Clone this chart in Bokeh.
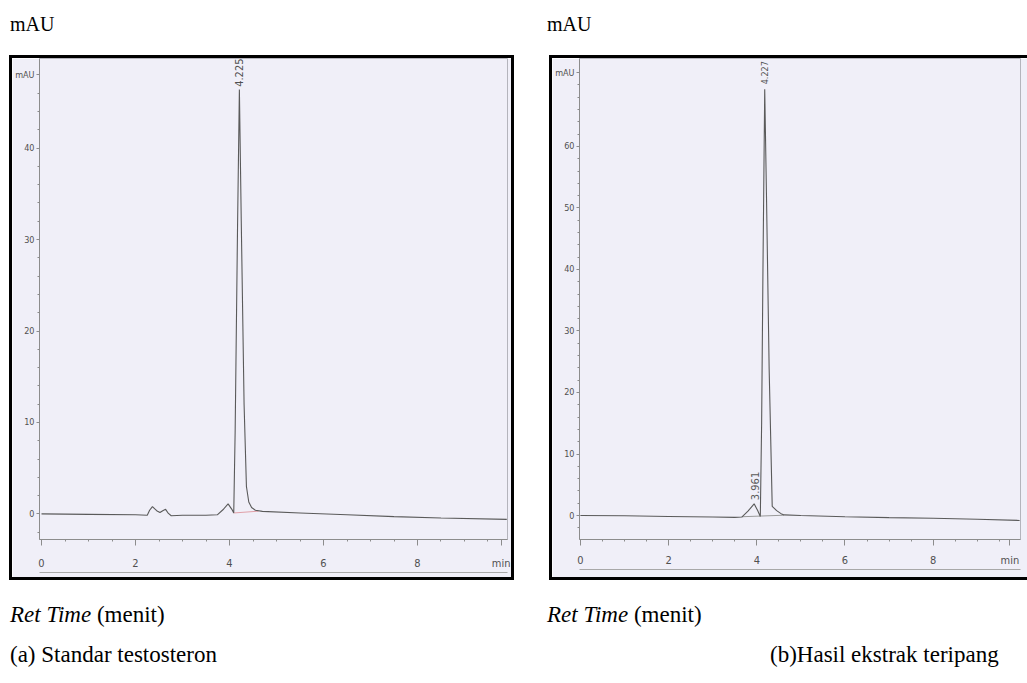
from bokeh.plotting import figure
from bokeh.models import FixedTicker, LinearAxis, Label, Div, Spacer
from bokeh.layouts import column, row
from bokeh.embed import file_html
from bokeh.resources import INLINE

# ---------------- data ----------------
# (a) Standar testosteron
std_time = [0.0, 1.0, 2.0, 2.25, 2.30, 2.36, 2.45, 2.52, 2.58, 2.64, 2.70, 2.76,
            3.0, 3.5, 3.74, 3.86, 3.97, 4.05, 4.09, 4.12, 4.17, 4.21, 4.25, 4.31,
            4.36, 4.41, 4.47, 4.55, 4.70, 5.5, 6.5, 7.5, 8.5, 9.9]
std_mau = [0.0, -0.05, -0.1, -0.15, 0.4, 0.8, 0.35, 0.15, 0.35, 0.5, 0.05, -0.2,
           -0.15, -0.15, -0.1, 0.45, 1.1, 0.5, 0.1, 9.0, 31.0, 46.4, 32.0, 12.0,
           3.0, 1.3, 0.7, 0.4, 0.28, 0.1, -0.1, -0.3, -0.45, -0.6]
std_base_time = [4.09, 4.62]
std_base_mau = [0.1, 0.3]
std_peak_labels = ["4.225"]

# (b) Hasil ekstrak teripang
ext_time = [0.0, 1.0, 2.0, 3.0, 3.5, 3.66, 3.80, 3.94, 4.02, 4.08, 4.11, 4.14,
            4.18, 4.22, 4.28, 4.35, 4.45, 4.55, 4.62, 5.0, 6.0, 7.0, 8.0, 9.0, 9.96]
ext_mau = [0.0, -0.05, -0.15, -0.25, -0.3, -0.25, 0.7, 1.9, 0.8, -0.15, 15.0, 40.0,
           69.3, 52.0, 24.0, 1.5, 0.8, 0.3, 0.1, 0.0, -0.2, -0.35, -0.45, -0.6, -0.8]
ext_base_time = [3.66, 4.62]
ext_base_mau = [-0.2, 0.05]
ext_small_peak_time = 3.961
ext_peak_labels = ["3.961", "4.227"]

std_y_major = [0, 10, 20, 30, 40]
ext_y_major = [0, 10, 20, 30, 40, 50, 60]
x_major = [0, 2, 4, 6, 8]
x_minor = [i * 0.5 for i in range(0, 21)]

BG = "#f0eff8"
TRACE = "#5a5a5a"
AXIS = "#8c8c8c"
TICKFONT = "DejaVu Sans Condensed"


def make_panel(t, m, bt, bm, bcol, xr, yr, y_major, mau_tick, y_minor, min_pos,
               w, h, ml, mr, mb, x_standoff):
    p = figure(width=w, height=h, x_range=xr, y_range=yr,
               output_backend="svg", toolbar_location=None,
               min_border_left=ml, min_border_right=mr,
               min_border_top=0, min_border_bottom=mb,
               background_fill_color=BG, border_fill_color=BG)
    p.styles = {"box-shadow": "0 0 0 3px #000"}
    p.grid.visible = False
    p.outline_line_color = "#b4b4bc"
    p.outline_line_width = 1

    ya = p.yaxis[0]
    ya.ticker = FixedTicker(ticks=y_major + [mau_tick], minor_ticks=y_minor)
    ya.major_label_overrides = {mau_tick: "mAU"}
    ya.axis_line_color = AXIS
    ya.major_tick_line_color = AXIS
    ya.minor_tick_line_color = AXIS
    ya.major_tick_out = 3
    ya.major_tick_in = 0
    ya.minor_tick_out = 2
    ya.minor_tick_in = 0
    ya.major_label_standoff = 2
    ya.major_label_text_font = TICKFONT
    ya.major_label_text_font_size = "9px"
    ya.major_label_text_color = "#505050"

    xa = p.xaxis[0]
    xa.ticker = FixedTicker(ticks=x_major + [min_pos], minor_ticks=x_minor)
    xa.major_label_overrides = {min_pos: "min"}
    xa.axis_line_color = AXIS
    xa.major_tick_line_color = AXIS
    xa.minor_tick_line_color = AXIS
    xa.major_tick_out = 6
    xa.major_tick_in = 0
    xa.minor_tick_out = 2
    xa.minor_tick_in = 0
    xa.major_label_standoff = x_standoff
    xa.major_label_text_font = TICKFONT
    xa.major_label_text_font_size = "11px"
    xa.major_label_text_color = "#505050"

    xb = LinearAxis(ticker=FixedTicker(ticks=[]), axis_line_color="#a8a8a8",
                    major_tick_line_color=None, minor_tick_line_color=None,
                    major_label_text_font_size="0px", major_label_standoff=0)
    p.add_layout(xb, "below")

    p.line(bt, bm, line_color=bcol, line_width=1)
    p.line(t, m, line_color=TRACE, line_width=1.1)
    return p


p1 = make_panel(std_time, std_mau, std_base_time, std_base_mau, "#e0a0a8",
                (-0.043, 9.915), (-2.8, 49.8), std_y_major, 48,
                list(range(-2, 50, 2)), 9.78, 499, 519, 27, 4, 31, 11)
imax = std_mau.index(max(std_mau))
p1.add_layout(Label(x=std_time[imax], y=std_mau[imax] + 0.3, text=std_peak_labels[0],
                    angle=90, angle_units="deg", text_align="left",
                    text_baseline="middle", text_font="DejaVu Sans Condensed",
                    text_font_size="11px", text_color="#505050"))

p2 = make_panel(ext_time, ext_mau, ext_base_time, ext_base_mau, "#9a9a9a",
                (-0.02, 9.98), (-3.9, 74.3), ext_y_major, 72,
                list(range(-2, 74, 2)), 9.74, 475, 519, 24, 7, 38, 8)
jmax = ext_mau.index(max(ext_mau))
p2.add_layout(Label(x=ext_time[jmax], y=ext_mau[jmax] + 0.8, text=ext_peak_labels[1],
                    angle=90, angle_units="deg", text_align="left",
                    text_baseline="middle", text_font="DejaVu Sans Condensed",
                    text_font_size="9px", text_color="#505050"))
ksmall = ext_time.index(3.94)
p2.add_layout(Label(x=ext_small_peak_time, y=ext_mau[ksmall] + 0.6, text=ext_peak_labels[0],
                    angle=90, angle_units="deg", text_align="left",
                    text_baseline="middle", text_font="DejaVu Sans Condensed",
                    text_font_size="11px", text_color="#5a5a5a"))

SERIF = "font-family:'Liberation Serif','Times New Roman',serif;color:#000;"
header = Div(text=(
    f'<div style="position:relative;width:1027px;height:58px;{SERIF}font-size:20px;line-height:24px;">'
    '<span style="position:absolute;left:10px;top:12px">mAU</span>'
    '<span style="position:absolute;left:547px;top:12px">mAU</span></div>'),
    width=1027, height=58, margin=0)
footer = Div(text=(
    f'<div style="position:relative;width:1027px;height:106px;{SERIF}font-size:23px;line-height:26px;">'
    '<span style="position:absolute;left:10px;top:25px"><i>Ret Time</i> (menit)</span>'
    '<span style="position:absolute;left:547px;top:25px"><i>Ret Time</i> (menit)</span>'
    '<span style="position:absolute;left:10px;top:65px">(a) Standar testosteron</span>'
    '<span style="position:absolute;left:770px;top:65px">(b)Hasil ekstrak teripang</span>'
    '</div>'),
    width=1027, height=106, margin=0)

body = row(Spacer(width=12, height=519), p1, Spacer(width=41, height=519), p2,
           spacing=0, margin=0)
layout = column(header, body, footer, spacing=0, margin=0)

open("out.html", "w").write(file_html(layout, INLINE))
